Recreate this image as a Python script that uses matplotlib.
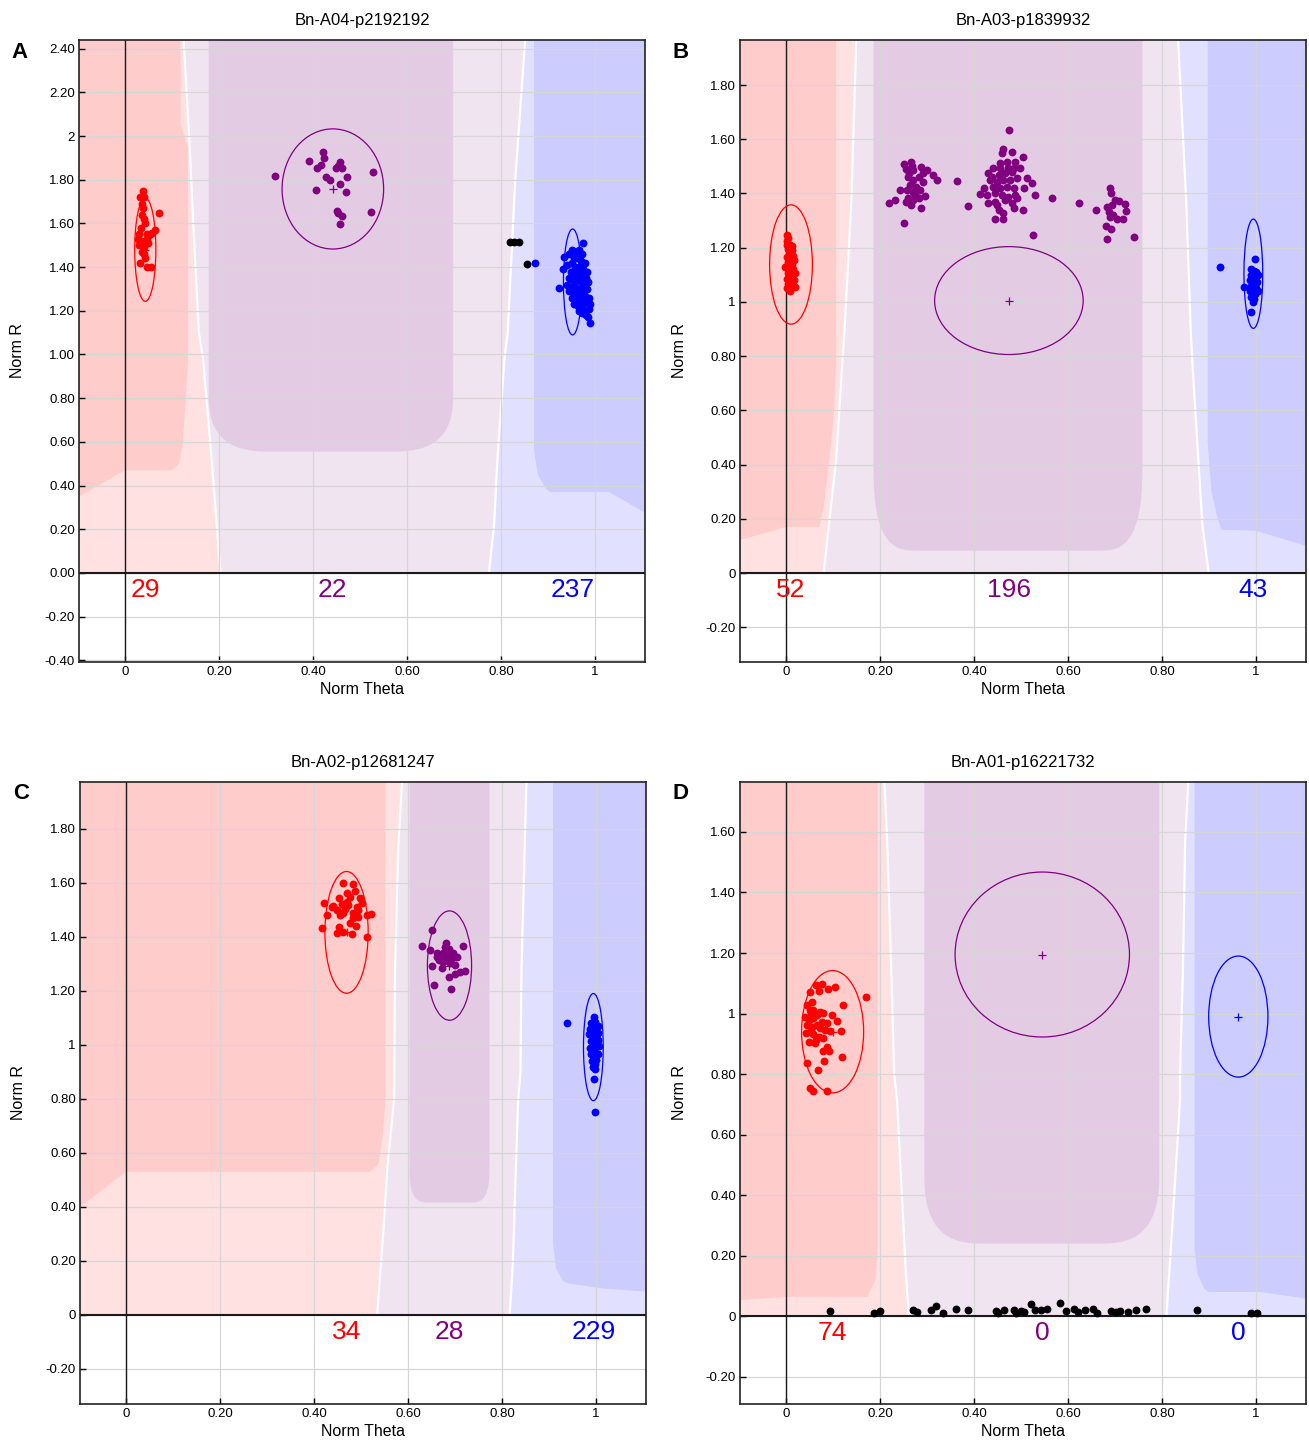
import matplotlib.pyplot as plt
import numpy as np
from matplotlib.patches import Ellipse, Polygon

plt.rcParams['font.family'] = ['Liberation Sans', 'DejaVu Sans']
NARROW = ['Liberation Sans Narrow', 'Liberation Sans', 'DejaVu Sans']

XMIN, XMAX = -0.098, 1.106
RED, PURPLE, BLUE = '#ff0000', '#800080', '#0000ff'
C_PINK, C_PINK_L = '#ffcccc', '#ffe1e1'
C_PURP, C_PURP_L = '#e3cce3', '#f0e4f0'
C_BLUE, C_BLUE_L = '#ccccff', '#e1e1ff'

x_ticks = [0, 0.2, 0.4, 0.6, 0.8, 1.0]
x_ticklabels = ['0', '0.20', '0.40', '0.60', '0.80', '1']

# ---------------- panel A : Bn-A04-p2192192
a_title = 'Bn-A04-p2192192'
a_ylim = (-0.408, 2.44)
a_yticks = [2.4, 2.2, 2.0, 1.8, 1.6, 1.4, 1.2, 1.0, 0.8, 0.6, 0.4, 0.2, 0.0, -0.2, -0.4]
a_yticklabels = ['2.40', '2.20', '2', '1.80', '1.60', '1.40', '1.20', '1.00', '0.80',
                 '0.60', '0.40', '0.20', '0.00', '-0.20', '-0.40']
a_red_x = [0.038, 0.031, 0.040, 0.038, 0.036, 0.072, 0.040, 0.033, 0.046, 0.063, 0.053, 0.030,
           0.033, 0.046, 0.040, 0.030, 0.040, 0.031, 0.046, 0.056, 0.036, 0.050, 0.058, 0.036,
           0.043, 0.028, 0.048, 0.035, 0.042]
a_red_y = [1.75, 1.72, 1.72, 1.67, 1.64, 1.65, 1.62, 1.58, 1.55, 1.57, 1.55, 1.55,
           1.52, 1.53, 1.49, 1.50, 1.46, 1.42, 1.40, 1.40, 1.51, 1.545, 1.555, 1.69,
           1.60, 1.53, 1.51, 1.47, 1.44]
a_purple_x = [0.319, 0.391, 0.421, 0.423, 0.409, 0.416, 0.427, 0.436, 0.448, 0.457, 0.461,
              0.472, 0.457, 0.469, 0.407, 0.527, 0.524, 0.450, 0.454, 0.461, 0.457, 0.452]
a_purple_y = [1.819, 1.887, 1.927, 1.900, 1.854, 1.866, 1.811, 1.800, 1.854, 1.881, 1.854,
              1.813, 1.781, 1.742, 1.755, 1.836, 1.654, 1.658, 1.648, 1.632, 1.597, 1.861]
a_blue_x = [0.975, 0.950, 0.958, 0.966, 0.972, 0.945, 0.933, 0.955, 0.962, 0.970, 0.978, 0.950,
            0.940, 0.931, 0.958, 0.966, 0.975, 0.983, 0.948, 0.956, 0.964, 0.972, 0.980, 0.945,
            0.953, 0.961, 0.969, 0.977, 0.985, 0.940, 0.950, 0.958, 0.966, 0.974, 0.982, 0.922,
            0.945, 0.955, 0.963, 0.971, 0.979, 0.987, 0.950, 0.958, 0.966, 0.974, 0.982, 0.990,
            0.955, 0.963, 0.971, 0.979, 0.987, 0.965, 0.973, 0.981, 0.984, 0.989, 0.960, 0.968,
            0.872]
a_blue_y = [1.51, 1.48, 1.47, 1.48, 1.46, 1.46, 1.446, 1.44, 1.44, 1.43, 1.42, 1.42,
            1.41, 1.391, 1.40, 1.40, 1.39, 1.38, 1.38, 1.37, 1.37, 1.36, 1.35, 1.35,
            1.34, 1.34, 1.33, 1.32, 1.33, 1.32, 1.31, 1.31, 1.30, 1.29, 1.30, 1.304,
            1.29, 1.28, 1.27, 1.26, 1.27, 1.26, 1.26, 1.25, 1.24, 1.23, 1.24, 1.23,
            1.23, 1.22, 1.21, 1.20, 1.21, 1.20, 1.19, 1.18, 1.171, 1.144, 1.35, 1.45,
            1.421]
a_black_x = [0.819, 0.828, 0.837, 0.855]
a_black_y = [1.513, 1.513, 1.513, 1.415]
a_ell_red = (0.043, 1.48, 0.045, 0.473)
a_ell_purple = (0.442, 1.758, 0.216, 0.55)
a_ell_blue = (0.952, 1.332, 0.039, 0.485)
a_counts = [29, 22, 237]
a_pink_edge = [(0.203, 0), (0.184, 0.52), (0.166, 0.98), (0.157, 1.10), (0.146, 1.56), (0.136, 2.01), (0.123, 2.5)]
a_blue_edge = [(0.774, 0), (0.785, 0.22), (0.792, 0.52), (0.807, 0.98), (0.814, 1.10), (0.83, 1.80), (0.853, 2.5)]
a_pink_zone = [(XMIN, 0.35), (0, 0.47), (0.10, 0.47), (0.115, 0.50), (0.123, 0.595), (0.134, 0.98),
               (0.134, 1.95), (0.118, 2.05), (0.118, 2.5), (XMIN, 2.5)]
a_blue_zone = [(0.870, 2.5), (0.870, 0.56), (0.878, 0.45), (0.895, 0.385), (0.905, 0.37), (1.03, 0.37),
               (XMAX, 0.275), (XMAX, 2.5)]
a_purple_zone = (0.178, 0.698, 0.555, 0.14, 0.28)

# ---------------- panel B : Bn-A03-p1839932
b_title = 'Bn-A03-p1839932'
b_ylim = (-0.328, 1.966)
b_yticks = [1.8, 1.6, 1.4, 1.2, 1.0, 0.8, 0.6, 0.4, 0.2, 0.0, -0.2]
b_yticklabels = ['1.80', '1.60', '1.40', '1.20', '1', '0.80', '0.60', '0.40', '0.20', '0', '-0.20']
b_red_x = [0.002, 0.005, 0.003, 0.008, 0.012, 0.004, 0.010, 0.006, 0.014, 0.002, 0.009, 0.017,
           0.005, 0.012, 0.003, 0.008, 0.015, -0.002, 0.010, 0.004, 0.018, 0.007, 0.013, 0.002,
           0.016, 0.009, 0.005, 0.014, 0.018, 0.003, 0.008, 0.011, 0.006, 0.013, 0.001]
b_red_y = [1.245, 1.235, 1.225, 1.21, 1.205, 1.195, 1.185, 1.175, 1.17, 1.165, 1.158, 1.155,
           1.148, 1.14, 1.132, 1.125, 1.12, 1.128, 1.112, 1.105, 1.105, 1.095, 1.088, 1.085,
           1.08, 1.072, 1.065, 1.06, 1.055, 1.05, 1.042, 1.098, 1.152, 1.19, 1.21]
b_purple_x = [0.251, 0.265, 0.255, 0.271, 0.287, 0.299, 0.313, 0.321, 0.292, 0.260, 0.271, 0.291,
              0.264, 0.277, 0.243, 0.257, 0.271, 0.284, 0.296, 0.260, 0.271, 0.282, 0.255, 0.265,
              0.287, 0.232, 0.220, 0.251, 0.274, 0.262, 0.282, 0.267,
              0.363, 0.388,
              0.475, 0.462, 0.459, 0.480, 0.504, 0.455, 0.470, 0.487, 0.441, 0.498, 0.430, 0.452,
              0.466, 0.480, 0.512, 0.523, 0.434, 0.448, 0.462, 0.477, 0.491, 0.441, 0.455, 0.470,
              0.484, 0.506, 0.420, 0.413, 0.427, 0.445, 0.459, 0.473, 0.487, 0.530, 0.565, 0.430,
              0.445, 0.466, 0.480, 0.491, 0.484, 0.504, 0.452, 0.462, 0.445, 0.461, 0.525, 0.438,
              0.473, 0.484, 0.455, 0.448,
              0.624, 0.660, 0.689, 0.691, 0.709, 0.721, 0.723, 0.716, 0.705, 0.689, 0.682, 0.693,
              0.688, 0.700, 0.681, 0.691, 0.682, 0.740, 0.696]
b_purple_y = [1.509, 1.517, 1.489, 1.487, 1.499, 1.487, 1.468, 1.450, 1.474, 1.462, 1.450, 1.444,
              1.431, 1.425, 1.413, 1.413, 1.407, 1.413, 1.391, 1.382, 1.376, 1.382, 1.370, 1.357,
              1.345, 1.376, 1.366, 1.290, 1.394, 1.474, 1.462, 1.501,
              1.446, 1.354,
              1.634, 1.563, 1.548, 1.554, 1.533, 1.511, 1.517, 1.517, 1.493, 1.493, 1.474, 1.468,
              1.474, 1.480, 1.456, 1.440, 1.450, 1.444, 1.450, 1.450, 1.456, 1.425, 1.419, 1.425,
              1.419, 1.419, 1.419, 1.398, 1.394, 1.401, 1.394, 1.388, 1.394, 1.394, 1.385, 1.364,
              1.370, 1.376, 1.366, 1.382, 1.345, 1.339, 1.339, 1.329, 1.305, 1.305, 1.247, 1.462,
              1.493, 1.493, 1.493, 1.357,
              1.364, 1.339, 1.419, 1.403, 1.373, 1.361, 1.336, 1.307, 1.305, 1.314, 1.349, 1.357,
              1.333, 1.376, 1.280, 1.268, 1.233, 1.238, 1.321]
b_blue_x = [0.997, 0.990, 0.995, 1.000, 0.988, 0.993, 0.998, 1.003, 0.986, 0.992, 0.997, 1.002,
            0.989, 0.995, 1.000, 0.974, 0.986, 0.992, 0.998, 1.004, 0.990, 0.996, 0.993, 0.990,
            0.923]
b_blue_y = [1.158, 1.12, 1.115, 1.11, 1.10, 1.095, 1.09, 1.10, 1.08, 1.075, 1.07, 1.075,
            1.06, 1.055, 1.05, 1.056, 1.04, 1.035, 1.03, 1.04, 1.02, 1.01, 1.00, 0.962,
            1.13]
b_black_x = []
b_black_y = []
b_ell_red = (0.0105, 1.138, 0.091, 0.44)
b_ell_purple = (0.474, 1.005, 0.316, 0.398)
b_ell_blue = (0.994, 1.104, 0.040, 0.403)
b_counts = [52, 196, 43]
b_pink_edge = [(0.08, 0), (0.0906, 0.171), (0.1065, 0.417), (0.120, 0.786), (0.124, 0.884), (0.139, 1.376), (0.150, 2.0)]
b_blue_edge = [(0.899, 0), (0.886, 0.171), (0.877, 0.417), (0.864, 0.786), (0.861, 0.884), (0.851, 1.376), (0.833, 2.0)]
b_pink_zone = [(XMIN, 0.122), (0, 0.17), (0.071, 0.17), (0.08, 0.245), (0.093, 0.43), (0.102, 0.6),
               (0.1065, 0.786), (0.1065, 2.0), (XMIN, 2.0)]
b_blue_zone = [(0.897, 2.0), (0.897, 0.478), (0.905, 0.3), (0.918, 0.2), (0.926, 0.16), (1.0, 0.156),
               (XMAX, 0.10), (XMAX, 2.0)]
b_purple_zone = (0.186, 0.758, 0.083, 0.09, 0.33)

# ---------------- panel C : Bn-A02-p12681247
c_title = 'Bn-A02-p12681247'
c_ylim = (-0.33, 1.974)
c_yticks = b_yticks
c_yticklabels = b_yticklabels
c_red_x = [0.462, 0.482, 0.469, 0.487, 0.498, 0.452, 0.420, 0.441, 0.459, 0.473, 0.491, 0.427,
           0.448, 0.461, 0.483, 0.494, 0.512, 0.522, 0.483, 0.416, 0.452, 0.489, 0.449, 0.462,
           0.480, 0.512, 0.469, 0.476, 0.501, 0.437, 0.494, 0.466, 0.455, 0.476]
c_red_y = [1.601, 1.596, 1.564, 1.571, 1.543, 1.543, 1.525, 1.515, 1.522, 1.518, 1.512, 1.481,
           1.500, 1.487, 1.487, 1.500, 1.481, 1.485, 1.469, 1.432, 1.438, 1.441, 1.413, 1.420,
           1.411, 1.401, 1.531, 1.549, 1.525, 1.512, 1.475, 1.502, 1.481, 1.450]
c_purple_x = [0.650, 0.629, 0.717, 0.647, 0.661, 0.679, 0.686, 0.668, 0.682, 0.693, 0.705, 0.675,
              0.689, 0.650, 0.671, 0.700, 0.710, 0.722, 0.700, 0.686, 0.654, 0.691, 0.661, 0.675,
              0.682, 0.666, 0.696, 0.680]
c_purple_y = [1.426, 1.366, 1.366, 1.352, 1.342, 1.362, 1.354, 1.327, 1.333, 1.321, 1.325, 1.308,
              1.302, 1.292, 1.284, 1.296, 1.271, 1.274, 1.263, 1.253, 1.222, 1.207, 1.327, 1.339,
              1.315, 1.315, 1.339, 1.379]
c_blue_x = [0.996, 0.990, 0.998, 1.003, 0.987, 0.993, 0.999, 1.004, 0.985, 0.991, 0.997, 1.003,
            0.988, 0.994, 1.000, 1.005, 0.986, 0.992, 0.998, 1.003, 0.989, 0.995, 1.000, 0.992,
            0.997, 0.993, 0.998, 0.995, 0.998, 0.937]
c_blue_y = [1.105, 1.08, 1.085, 1.07, 1.06, 1.065, 1.055, 1.045, 1.04, 1.035, 1.03, 1.02,
            1.015, 1.01, 1.00, 0.995, 0.99, 0.985, 0.975, 0.965, 0.965, 0.955, 0.945, 0.94,
            0.93, 0.92, 0.912, 0.875, 0.753, 1.08]
c_black_x = []
c_black_y = []
c_ell_red = (0.469, 1.417, 0.092, 0.451)
c_ell_purple = (0.688, 1.294, 0.094, 0.405)
c_ell_blue = (0.994, 0.992, 0.042, 0.397)
c_counts = [34, 28, 229]
c_pink_edge = [(0.534, 0), (0.547, 0.302), (0.556, 0.549), (0.570, 0.796), (0.572, 1.266), (0.579, 1.735), (0.588, 2.0)]
c_blue_edge = [(0.816, 0), (0.823, 0.2), (0.827, 0.426), (0.834, 0.796), (0.839, 0.9), (0.841, 1.266), (0.852, 2.0)]
c_pink_zone = [(XMIN, 0.40), (0, 0.53), (0.52, 0.53), (0.537, 0.56), (0.545, 0.65), (0.552, 0.796),
               (0.552, 2.0), (XMIN, 2.0)]
c_blue_zone = [(0.908, 2.0), (0.908, 0.265), (0.915, 0.17), (0.93, 0.125), (0.94, 0.117), (1.013, 0.098),
               (XMAX, 0.086), (XMAX, 2.0)]
c_purple_zone = (0.603, 0.773, 0.416, 0.04, 0.13)

# ---------------- panel D : Bn-A01-p16221732
d_title = 'Bn-A01-p16221732'
d_ylim = (-0.29, 1.765)
d_yticks = [1.6, 1.4, 1.2, 1.0, 0.8, 0.6, 0.4, 0.2, 0.0, -0.2]
d_yticklabels = ['1.60', '1.40', '1.20', '1', '0.80', '0.60', '0.40', '0.20', '0', '-0.20']
d_red_x = [0.064, 0.076, 0.071, 0.090, 0.104, 0.051, 0.055, 0.044, 0.122, 0.170, 0.050, 0.058,
           0.072, 0.079, 0.097, 0.040, 0.048, 0.058, 0.108, 0.044, 0.055, 0.065, 0.072, 0.083,
           0.094, 0.116, 0.043, 0.058, 0.069, 0.079, 0.048, 0.062, 0.087, 0.092, 0.079, 0.118,
           0.081, 0.044, 0.068, 0.051, 0.058, 0.087, 0.052, 0.065, 0.052, 0.064, 0.076, 0.087]
d_red_y = [1.094, 1.098, 1.076, 1.080, 1.087, 1.072, 1.039, 1.028, 1.028, 1.054, 1.012, 1.012,
           1.006, 1.001, 0.995, 0.990, 0.979, 0.984, 0.977, 0.962, 0.957, 0.962, 0.951, 0.946,
           0.942, 0.943, 0.937, 0.932, 0.924, 0.918, 0.907, 0.902, 0.888, 0.877, 0.877, 0.857,
           0.844, 0.835, 0.813, 0.755, 0.745, 0.745, 1.001, 0.995, 0.943, 0.913, 0.973, 0.968]
d_purple_x = []
d_purple_y = []
d_blue_x = []
d_blue_y = []
d_black_x = [0.093, 0.186, 0.199, 0.269, 0.278, 0.309, 0.318, 0.334, 0.362, 0.386, 0.446, 0.463,
             0.485, 0.499, 0.507, 0.521, 0.529, 0.543, 0.554, 0.582, 0.595, 0.613, 0.622, 0.635,
             0.653, 0.661, 0.692, 0.701, 0.710, 0.728, 0.745, 0.765, 0.874, 0.988, 1.001, 0.450,
             0.490]
d_black_y = [0.016, 0.012, 0.016, 0.020, 0.014, 0.020, 0.034, 0.011, 0.025, 0.020, 0.018, 0.020,
             0.020, 0.018, 0.013, 0.040, 0.020, 0.022, 0.025, 0.044, 0.018, 0.024, 0.014, 0.020,
             0.023, 0.011, 0.016, 0.014, 0.018, 0.014, 0.020, 0.025, 0.020, 0.009, 0.009, 0.009,
             0.011]
d_ell_red = (0.099, 0.94, 0.132, 0.404)
d_ell_purple = (0.545, 1.195, 0.371, 0.545)
d_ell_blue = (0.962, 0.99, 0.126, 0.40)
d_counts = [74, 0, 0]
d_pink_edge = [(0.261, 0), (0.254, 0.163), (0.247, 0.383), (0.236, 0.714), (0.23, 0.80), (0.224, 1.13), (0.215, 1.573), (0.208, 1.8)]
d_blue_edge = [(0.809, 0), (0.816, 0.163), (0.825, 0.383), (0.838, 0.714), (0.838, 0.80), (0.844, 1.13), (0.849, 1.573), (0.857, 1.8)]
d_pink_zone = [(XMIN, 0.053), (0, 0.064), (0.173, 0.064), (0.19, 0.12), (0.195, 0.218),
               (0.195, 1.8), (XMIN, 1.8)]
d_blue_zone = [(0.869, 1.8), (0.869, 0.218), (0.875, 0.14), (0.89, 0.09), (0.9, 0.08), (1.01, 0.08),
               (XMAX, 0.058), (XMAX, 1.8)]
d_purple_zone = (0.294, 0.794, 0.24, 0.13, 0.25)


def rounded_zone(x0, x1, yb, rx, ry, ytop):
    # flat-bottomed zone with squarish rounded corners
    t = np.linspace(0, np.pi / 2, 30)
    c, s = np.cos(t) ** 0.7, np.sin(t) ** 0.7
    left = [(x0 + rx - rx * ci, yb + ry - ry * si) for ci, si in zip(c, s)]
    right = [(x1 - rx + rx * si, yb + ry - ry * ci) for ci, si in zip(c, s)]
    return [(x0, ytop)] + left + right + [(x1, ytop)]


def draw_panel(ax, letter, title, ylim, yticks, yticklabels,
               red, purple, blue, black, ells, counts,
               pink_edge, blue_edge, pink_zone, blue_zone, purple_zone):
    top = ylim[1] + 0.1
    pe = list(pink_edge)
    be = list(blue_edge)
    # light background regions
    ax.add_patch(Polygon([(XMIN, 0)] + pe + [(XMIN, top)], closed=True, fc=C_PINK_L, ec='none', zorder=0.5))
    ax.add_patch(Polygon(pe[::-1] + be, closed=True, fc=C_PURP_L, ec='none', zorder=0.5))
    ax.add_patch(Polygon(be + [(XMAX, top), (XMAX, 0)], closed=True, fc=C_BLUE_L, ec='none', zorder=0.5))
    # core regions
    ax.add_patch(Polygon(pink_zone, closed=True, fc=C_PINK, ec='none', zorder=0.8))
    ax.add_patch(Polygon(blue_zone, closed=True, fc=C_BLUE, ec='none', zorder=0.8))
    x0, x1, yb, rx, ry = purple_zone
    ax.add_patch(Polygon(rounded_zone(x0, x1, yb, rx, ry, top), closed=True, fc=C_PURP, ec='none', zorder=0.8))
    for edge in (pe, be):
        ax.plot([p[0] for p in edge], [p[1] for p in edge], color='white', lw=1.6, zorder=1)

    ax.set_xlim(XMIN, XMAX)
    ax.set_ylim(*ylim)
    ax.set_xticks(x_ticks)
    ax.set_xticklabels(x_ticklabels, family=NARROW)
    ax.set_yticks(yticks)
    ax.set_yticklabels(yticklabels, family=NARROW)
    ax.tick_params(direction='in', length=4, width=1, labelsize=9.5, pad=3, colors='black')
    ax.grid(True, color='#d6d6d6', lw=0.9)
    ax.set_axisbelow(False)
    for s in ax.spines.values():
        s.set_linewidth(1.2)
        s.set_color('#222222')
        s.set_zorder(6)

    ax.axhline(0, color='#1a1a1a', lw=1.5, zorder=2.7)
    ax.axvline(0, color='#1a1a1a', lw=1.0, zorder=2.7)

    for (cx, cy, w, h), col in zip(ells, (RED, PURPLE, BLUE)):
        ax.add_patch(Ellipse((cx, cy), w, h, fill=False, ec=col, lw=0.9, zorder=3))
        ax.plot(cx, cy, marker='+', color=col, ms=6, mew=0.9, zorder=3)

    for (xs, ys), col in zip((red, purple, blue, black), (RED, PURPLE, BLUE, 'black')):
        if len(xs):
            ax.scatter(xs, ys, s=32, color=col, lw=0, zorder=4)

    for (cx, cy, w, h), n, col in zip(ells, counts, (RED, PURPLE, BLUE)):
        ax.annotate(str(n), xy=(cx, 0), xytext=(0, -12), textcoords='offset points',
                    ha='center', va='center', fontsize=19, color=col, zorder=5, family=NARROW)

    ax.text(0.5, 1 + 20 / 622, title, transform=ax.transAxes, ha='center', va='center',
            fontsize=12, family=NARROW)
    ax.text(0.5, -27 / 622, 'Norm Theta', transform=ax.transAxes, ha='center', va='center', fontsize=11.5)
    ax.text(-61 / 566, 0.5, 'Norm R', transform=ax.transAxes, ha='center', va='center',
            rotation=90, fontsize=11.5)
    ax.text(-59 / 566, 1 - 12 / 622, letter, transform=ax.transAxes, ha='center', va='center',
            fontsize=16, fontweight='bold')


fig = plt.figure(figsize=(13.09, 14.4), dpi=100)
W, H = 1309, 1440
boxes = {'A': (79, 40), 'B': (740, 40), 'C': (80, 782), 'D': (740, 782)}
axes = {}
for k, (px, py) in boxes.items():
    axes[k] = fig.add_axes([px / W, (H - py - 622) / H, 566 / W, 622 / H])

draw_panel(axes['A'], 'A', a_title, a_ylim, a_yticks, a_yticklabels,
           (a_red_x, a_red_y), (a_purple_x, a_purple_y), (a_blue_x, a_blue_y), (a_black_x, a_black_y),
           (a_ell_red, a_ell_purple, a_ell_blue), a_counts,
           a_pink_edge, a_blue_edge, a_pink_zone, a_blue_zone, a_purple_zone)
draw_panel(axes['B'], 'B', b_title, b_ylim, b_yticks, b_yticklabels,
           (b_red_x, b_red_y), (b_purple_x, b_purple_y), (b_blue_x, b_blue_y), (b_black_x, b_black_y),
           (b_ell_red, b_ell_purple, b_ell_blue), b_counts,
           b_pink_edge, b_blue_edge, b_pink_zone, b_blue_zone, b_purple_zone)
draw_panel(axes['C'], 'C', c_title, c_ylim, c_yticks, c_yticklabels,
           (c_red_x, c_red_y), (c_purple_x, c_purple_y), (c_blue_x, c_blue_y), (c_black_x, c_black_y),
           (c_ell_red, c_ell_purple, c_ell_blue), c_counts,
           c_pink_edge, c_blue_edge, c_pink_zone, c_blue_zone, c_purple_zone)
draw_panel(axes['D'], 'D', d_title, d_ylim, d_yticks, d_yticklabels,
           (d_red_x, d_red_y), (d_purple_x, d_purple_y), (d_blue_x, d_blue_y), (d_black_x, d_black_y),
           (d_ell_red, d_ell_purple, d_ell_blue), d_counts,
           d_pink_edge, d_blue_edge, d_pink_zone, d_blue_zone, d_purple_zone)

fig.savefig('out.png', dpi=100)
